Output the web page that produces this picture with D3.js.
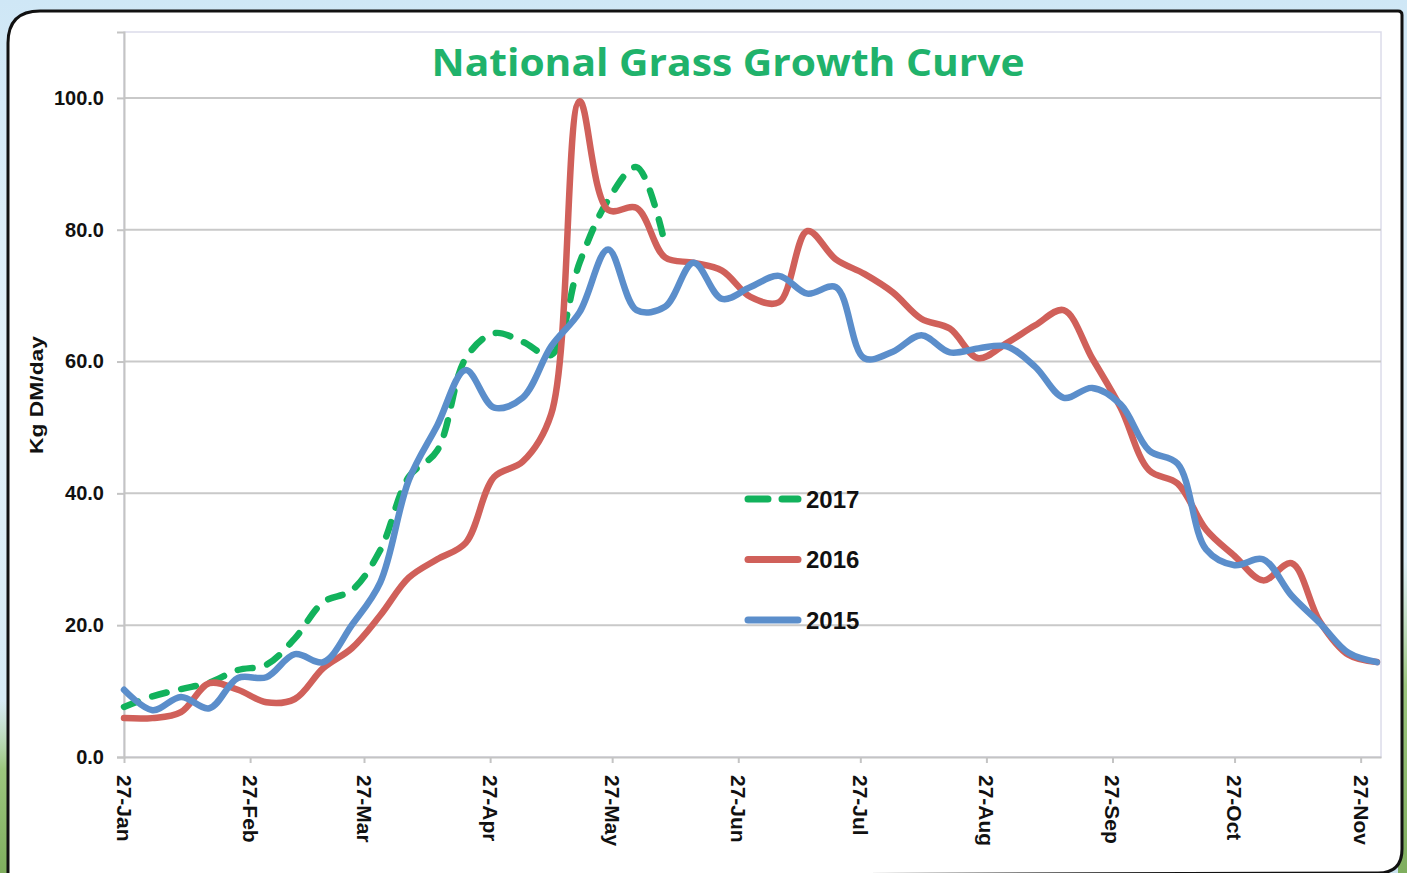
<!DOCTYPE html>
<html>
<head>
<meta charset="utf-8">
<script src="https://cdn.jsdelivr.net/npm/d3@7"></script>
<style>
  html, body { margin: 0; padding: 0; width: 1407px; height: 873px; overflow: hidden; }
  body {
    background: linear-gradient(180deg, #cfe7f6 0%, #e3f1f9 40%, #d7ebf5 80%, #c9e2ee 100%);
    position: relative;
  }
  svg { position: absolute; left: 0; top: 0; }
  .lbl { font-family: "Liberation Sans Narrow", "Arial Narrow", "Liberation Sans", sans-serif; font-weight: bold; fill: #111; }
</style>
</head>
<body>
<svg id="chart" width="1407" height="873"></svg>
<script>
// Weekly sample dates
const weeks = [
  "2017-01-27","2017-02-03","2017-02-10","2017-02-17","2017-02-24",
  "2017-03-03","2017-03-10","2017-03-17","2017-03-24","2017-03-31",
  "2017-04-07","2017-04-14","2017-04-21","2017-04-28","2017-05-05",
  "2017-05-12","2017-05-19","2017-05-26","2017-06-02","2017-06-09",
  "2017-06-16","2017-06-23","2017-06-30","2017-07-07","2017-07-14",
  "2017-07-21","2017-07-28","2017-08-04","2017-08-11","2017-08-18",
  "2017-08-25","2017-09-01","2017-09-08","2017-09-15","2017-09-22",
  "2017-09-29","2017-10-06","2017-10-13","2017-10-20","2017-10-27",
  "2017-11-03","2017-11-10","2017-11-17","2017-11-24","2017-12-01"
];

// Grass growth, kg DM/ha/day
const growth2017 = [
  7.6, 9.2, 10.3, 11.3, 13.2, 14.0, 18.0, 23.5, 25.3, 31.4,
  42.5, 46.5, 60.5, 64.3, 63.0, 61.0, 75.0, 84.5, 89.5, 77.8
];
const growth2016 = [
  5.9, 5.9, 6.8, 11.2, 10.2, 8.3, 8.8, 13.5, 16.5, 21.5,
  27.2, 30.0, 32.5, 42.5, 44.8, 52.0, 99.5, 83.0, 83.3, 75.8,
  75.0, 73.8, 69.8, 69.0, 79.8, 75.5, 73.3, 70.5, 66.5, 65.0,
  60.5, 62.8, 65.5, 67.8, 60.5, 53.0, 43.5, 41.5, 34.5, 30.5,
  26.8, 29.4, 20.5, 15.5, 14.4
];
const growth2015 = [
  10.2, 7.1, 9.1, 7.4, 12.0, 12.1, 15.6, 14.4, 20.0, 26.5,
  42.0, 50.3, 58.7, 53.0, 54.5, 62.3, 67.5, 77.0, 67.8, 68.3,
  75.0, 69.5, 71.3, 73.0, 70.3, 71.3, 60.5, 61.5, 64.0, 61.4,
  62.0, 62.3, 59.2, 54.5, 56.0, 53.5, 46.5, 44.5, 31.5, 29.1,
  30.0, 24.5, 20.3, 15.8, 14.4
];

const xTickDates = [
  "2017-01-27","2017-02-27","2017-03-27","2017-04-27","2017-05-27","2017-06-27",
  "2017-07-27","2017-08-27","2017-09-27","2017-10-27","2017-11-27"
];
const yTicks = [0, 20, 40, 60, 80, 100];

const seriesNames = ["2017", "2016", "2015"];
const seriesColors = { "2017": "#12b25c", "2016": "#d0605a", "2015": "#5b8ecb" };

const parse = d3.utcParse("%Y-%m-%d");
const svg = d3.select("#chart");

// Backdrop tints around the panel
const defs = svg.append("defs");
const gl = defs.append("linearGradient").attr("id", "greenFade").attr("x1", 0).attr("y1", 0).attr("x2", 0).attr("y2", 1);
gl.append("stop").attr("offset", "0%").attr("stop-color", "#b9d9a0").attr("stop-opacity", 0);
gl.append("stop").attr("offset", "40%").attr("stop-color", "#9cc67e");
gl.append("stop").attr("offset", "100%").attr("stop-color", "#7fae5e");
svg.append("rect").attr("x", 0).attr("y", 700).attr("width", 12).attr("height", 173).attr("fill", "url(#greenFade)");
svg.append("rect").attr("x", 1398).attr("y", 560).attr("width", 9).attr("height", 313).attr("fill", "url(#greenFade)");

// Rounded white panel
const P = { x0: 8, y0: 11, x1: 1402, y1: 873, r: 32 };
svg.append("path")
  .attr("d", `M${P.x0},${P.y0 + P.r} Q${P.x0},${P.y0} ${P.x0 + P.r},${P.y0}
    L${P.x1 - 4},${P.y0} Q${P.x1},${P.y0} ${P.x1},${P.y0 + 4}
    L${P.x1},${P.y1 - 24} Q${P.x1},${P.y1} ${P.x1 - 24},${P.y1}
    L${P.x0},${P.y1 + 4} Z`)
  .attr("fill", "#ffffff")
  .attr("stroke", "#111")
  .attr("stroke-width", 3);

const plot = { left: 124, right: 1381, top: 32, bottom: 757 };

const x = d3.scaleUtc()
  .domain([parse("2017-01-27"), parse("2017-12-02")])
  .range([plot.left, plot.right]);
const y = d3.scaleLinear()
  .domain([0, 110])
  .range([plot.bottom, plot.top]);

// Plot box
svg.append("rect")
  .attr("x", plot.left).attr("y", plot.top)
  .attr("width", plot.right - plot.left).attr("height", plot.bottom - plot.top)
  .attr("fill", "none").attr("stroke", "#dcdcea").attr("stroke-width", 1.5);

// Horizontal gridlines
svg.append("g")
  .selectAll("line")
  .data(yTicks.filter(d => d > 0))
  .join("line")
  .attr("x1", plot.left).attr("x2", plot.right)
  .attr("y1", d => y(d)).attr("y2", d => y(d))
  .attr("stroke", "#c9c9c9").attr("stroke-width", 2);

// Y axis
const yAxis = svg.append("g")
  .attr("transform", `translate(${plot.left},0)`)
  .call(d3.axisLeft(y).tickValues(yTicks).tickFormat(d3.format(".1f")).tickSize(7).tickPadding(13));
yAxis.select(".domain").attr("stroke", "#c4c4c4").attr("stroke-width", 2);
yAxis.selectAll(".tick line").attr("stroke", "#c4c4c4").attr("stroke-width", 2);
yAxis.selectAll(".tick text").attr("class", "lbl").style("font-size", "20px");

// X axis
const xAxis = svg.append("g")
  .attr("transform", `translate(0,${plot.bottom})`)
  .call(d3.axisBottom(x).tickValues(xTickDates.map(parse)).tickFormat(d3.utcFormat("%d-%b")).tickSize(6).tickSizeOuter(0));
xAxis.select(".domain").attr("stroke", "#c4c4c4").attr("stroke-width", 2);
xAxis.selectAll(".tick line").attr("stroke", "#c4c4c4").attr("stroke-width", 2);
xAxis.selectAll(".tick text")
  .attr("class", "lbl")
  .style("font-size", "21px")
  .attr("transform", "rotate(90)")
  .attr("x", 18).attr("y", 0).attr("dy", "0.36em")
  .style("text-anchor", "start");

// Y axis title
svg.append("text")
  .attr("class", "lbl")
  .attr("transform", "translate(43,395) rotate(-90)")
  .attr("text-anchor", "middle")
  .style("font-size", "19px")
  .attr("textLength", 118).attr("lengthAdjust", "spacingAndGlyphs")
  .text("Kg DM/day");

// Title
svg.append("text")
  .attr("x", 728).attr("y", 76)
  .attr("text-anchor", "middle")
  .style("font-family", "'Open Sans', 'Noto Sans', sans-serif")
  .style("font-weight", "bold")
  .style("font-size", "38px")
  .attr("fill", "#20b26b")
  .attr("textLength", 593).attr("lengthAdjust", "spacingAndGlyphs")
  .text("National Grass Growth Curve");

// Lines
const line = d3.line()
  .x(d => x(d.date))
  .y(d => y(d.value))
  .curve(d3.curveCatmullRom.alpha(0.5));

const seriesData = {
  "2017": growth2017.map((v, i) => ({ date: parse(weeks[i]), value: v })),
  "2016": growth2016.map((v, i) => ({ date: parse(weeks[i]), value: v })),
  "2015": growth2015.map((v, i) => ({ date: parse(weeks[i]), value: v }))
};

const drawOrder = ["2017", "2016", "2015"];
drawOrder.forEach(name => {
  svg.append("path")
    .datum(seriesData[name])
    .attr("fill", "none")
    .attr("stroke", seriesColors[name])
    .attr("stroke-width", 6.5)
    .attr("stroke-linejoin", "round")
    .attr("stroke-linecap", "round")
    .attr("stroke-dasharray", name === "2017" ? "15,15" : null)
    .attr("d", line);
});

// Legend
const legend = svg.append("g").attr("transform", "translate(748,499)");
seriesNames.forEach((name, i) => {
  const g = legend.append("g").attr("transform", `translate(0,${i * 60.5})`);
  g.append("line")
    .attr("x1", 0).attr("x2", 50)
    .attr("stroke", seriesColors[name])
    .attr("stroke-width", 7)
    .attr("stroke-linecap", "round")
    .attr("stroke-dasharray", name === "2017" ? "20,14" : null);
  g.append("text")
    .attr("class", "lbl")
    .attr("x", 58).attr("dy", "0.36em")
    .style("font-size", "24px")
    .text(name);
});
</script>
</body>
</html>
